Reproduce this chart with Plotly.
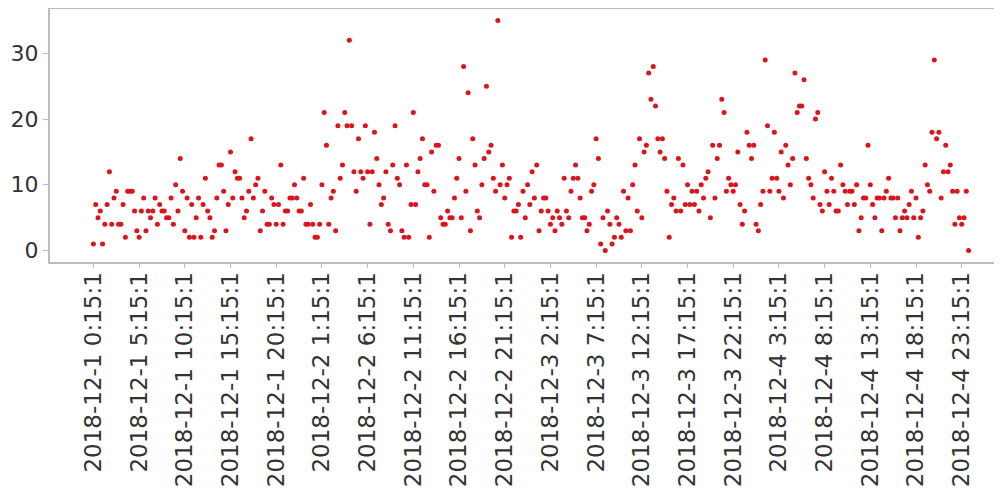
import plotly.graph_objects as go

# 15-minute readings, 2018-12-01 00:15:01 ... 2018-12-04 23:60
values = [
    1, 7, 5, 6, 1, 4, 7, 12, 4, 8, 9, 4, 4, 7, 2, 9, 9, 9, 6, 3,
    2, 6, 8, 3, 6, 5, 6, 8, 4, 7, 6, 6, 5, 5, 8, 4, 10, 6, 14, 9,
    3, 8, 2, 7, 2, 5, 8, 2, 7, 11, 6, 5, 2, 3, 8, 13, 13, 9, 3, 7,
    15, 8, 12, 11, 11, 8, 5, 6, 9, 17, 8, 10, 11, 3, 6, 9, 4, 4, 8, 7,
    4, 7, 13, 4, 6, 6, 8, 8, 10, 8, 6, 6, 11, 4, 4, 7, 4, 2, 2, 4,
    10, 21, 16, 4, 8, 9, 3, 19, 11, 13, 21, 19, 32, 19, 12, 9, 17, 12, 11, 19,
    12, 4, 12, 18, 14, 10, 7, 8, 12, 4, 3, 13, 19, 11, 10, 3, 2, 13, 2, 7,
    21, 7, 12, 14, 17, 10, 10, 2, 15, 9, 16, 16, 5, 4, 4, 6, 5, 5, 8, 11,
    14, 5, 28, 9, 24, 3, 17, 13, 6, 5, 10, 14, 25, 15, 16, 11, 9, 35, 10, 13,
    8, 10, 11, 2, 6, 6, 7, 2, 9, 5, 10, 7, 12, 8, 13, 3, 6, 8, 8, 6,
    4, 5, 3, 6, 5, 4, 11, 6, 5, 9, 11, 13, 11, 8, 5, 5, 3, 4, 9, 10,
    17, 14, 1, 5, 0, 6, 4, 1, 2, 5, 4, 2, 9, 3, 8, 3, 10, 13, 6, 17,
    5, 15, 16, 27, 23, 28, 22, 17, 15, 17, 14, 9, 2, 7, 8, 6, 14, 6, 13, 7,
    10, 7, 9, 7, 9, 6, 10, 8, 11, 12, 5, 16, 8, 14, 16, 23, 21, 9, 11, 10,
    9, 10, 15, 7, 4, 6, 18, 16, 14, 16, 4, 3, 7, 9, 29, 19, 9, 11, 18, 11,
    9, 15, 8, 16, 13, 10, 14, 27, 21, 22, 22, 26, 14, 11, 10, 8, 20, 21, 7, 6,
    12, 9, 7, 11, 9, 6, 6, 13, 10, 9, 7, 9, 9, 7, 10, 3, 5, 8, 8, 16,
    10, 7, 5, 8, 8, 3, 8, 9, 11, 8, 8, 5, 8, 3, 5, 6, 5, 7, 9, 5,
    8, 2, 5, 6, 13, 10, 9, 18, 29, 17, 18, 8, 12, 16, 12, 13, 9, 4, 9, 5,
    4, 5, 9, 0,
]

# timestamp labels: every 15 minutes starting at 2018-12-1 0:15:1
timestamps = []
for k in range(len(values)):
    total_min = 15 + 15 * k
    day = 1 + total_min // 1440
    hour = (total_min % 1440) // 60
    minute = total_min % 60
    timestamps.append(f"2018-12-{day} {hour}:{minute}:1")

tick_labels = timestamps[::20]

fig = go.Figure(
    go.Scatter(
        x=timestamps,
        y=values,
        mode="markers",
        marker=dict(size=5, color="#dc141c", line=dict(width=0)),
    )
)

# page body adds an 8px offset; the figure is sized to fill the rest
fig.update_layout(
    width=994,
    height=483,
    margin=dict(l=42, r=6, t=1, b=229),
    plot_bgcolor="white",
    paper_bgcolor="white",
    showlegend=False,
    font=dict(family="DejaVu Sans", color="#333333"),
)
fig.update_xaxes(
    type="category",
    categoryorder="array",
    categoryarray=timestamps,
    tickmode="array",
    tickvals=tick_labels,
    ticktext=tick_labels,
    tickangle=-90,
    tickfont=dict(size=23, color="#333333"),
    ticklabelstandoff=-5,
    range=[-19, 395],
    automargin=False,
    showgrid=False,
    zeroline=False,
    showline=True,
    mirror=True,
    linecolor="#bdbdbd",
    linewidth=2,
    ticks="outside",
    ticklen=4,
    tickcolor="#bdbdbd",
)
fig.update_yaxes(
    tickmode="array",
    tickvals=[0, 10, 20, 30],
    tickfont=dict(size=22, color="#333333"),
    range=[-1.75, 36.75],
    automargin=False,
    showgrid=False,
    zeroline=False,
    showline=True,
    mirror=True,
    linecolor="#bdbdbd",
    linewidth=2,
    ticks="outside",
    ticklen=5,
    tickcolor="#bdbdbd",
)

fig.write_html("out.html")
